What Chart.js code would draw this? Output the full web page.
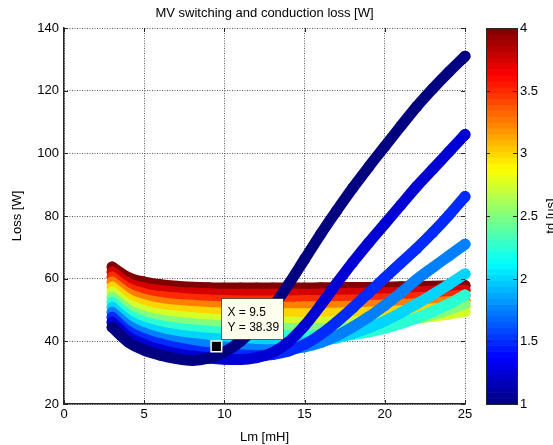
<!DOCTYPE html>
<html>
<head>
<meta charset="utf-8">
<script src="https://cdn.jsdelivr.net/npm/chart.js@4.4.1/dist/chart.umd.min.js"></script>
<style>
  html, body { margin: 0; padding: 0; background: #fff; }
  canvas { display: block; }
</style>
</head>
<body>
<canvas id="lossChart" width="553" height="445"></canvas>
<script>
// Lm [mH] sample points (same for every td curve)
const lm = [3, 4, 5, 6, 7, 8, 9, 10, 11, 12, 13, 14, 15, 16, 17, 18, 19, 20, 21, 22, 23, 24, 25];

// td [us] values, one curve each
const td = [1, 1.25, 1.5, 1.75, 2, 2.25, 2.5, 2.75, 3, 3.25, 3.5, 3.75, 4];

// loss [W], one array per td
const loss_1_00 = [44.5, 39.8, 37.2, 35.6, 34.5, 33.9, 34.6, 36.6, 40.0, 44.8, 50.8, 58.2, 66.2, 74.2, 81.7, 88.9, 95.7, 102.2, 108.7, 115.0, 120.7, 126.0, 131.0];
const loss_1_25 = [46.1, 41.5, 39.0, 37.3, 36.1, 35.3, 34.7, 34.3, 34.2, 34.8, 36.4, 39.8, 45.0, 51.5, 58.5, 65.2, 71.5, 77.5, 83.5, 89.5, 95.0, 100.5, 106.0];
const loss_1_50 = [47.7, 43.2, 40.8, 39.2, 38.0, 37.1, 36.4, 35.9, 35.6, 35.5, 35.8, 36.9, 39.0, 42.2, 46.2, 50.7, 55.5, 60.3, 65.0, 69.7, 74.8, 80.3, 86.2];
const loss_1_75 = [49.3, 45.0, 42.6, 41.0, 40.0, 39.3, 38.7, 38.1, 37.7, 37.4, 37.3, 37.5, 38.2, 39.6, 41.8, 44.6, 47.8, 51.5, 55.5, 59.8, 63.6, 67.3, 71.0];
const loss_2_00 = [50.9, 46.7, 44.4, 43.0, 42.1, 41.5, 41.0, 40.6, 40.2, 39.9, 39.7, 39.6, 39.7, 40.2, 41.1, 42.5, 44.3, 46.5, 49.1, 52.0, 55.0, 58.2, 61.5];
const loss_2_25 = [52.5, 48.4, 46.2, 45.0, 44.2, 43.7, 43.2, 42.8, 42.5, 42.2, 42.0, 41.8, 41.7, 41.7, 41.8, 42.2, 43.0, 44.2, 45.7, 47.5, 49.6, 52.0, 54.8];
const loss_2_50 = [54.1, 50.1, 48.0, 46.8, 46.1, 45.6, 45.2, 44.9, 44.6, 44.4, 44.2, 44.1, 44.0, 44.0, 44.1, 44.3, 44.7, 45.3, 46.2, 47.3, 48.6, 50.2, 52.0];
const loss_2_75 = [55.7, 51.8, 49.8, 48.6, 48.0, 47.5, 47.1, 46.8, 46.6, 46.4, 46.2, 46.1, 46.1, 46.1, 46.2, 46.3, 46.5, 46.8, 47.1, 47.5, 48.0, 48.7, 49.5];
const loss_3_00 = [57.3, 53.5, 51.6, 50.5, 49.9, 49.5, 49.2, 49.0, 48.9, 48.8, 48.8, 48.8, 48.8, 48.9, 49.0, 49.1, 49.3, 49.5, 49.7, 50.0, 50.3, 50.7, 51.2];
const loss_3_25 = [58.9, 55.2, 53.4, 52.4, 51.8, 51.5, 51.2, 51.0, 50.9, 50.9, 50.9, 50.9, 51.0, 51.0, 51.1, 51.2, 51.4, 51.6, 51.8, 52.0, 52.3, 52.6, 53.0];
const loss_3_50 = [60.5, 56.9, 55.2, 54.3, 53.8, 53.4, 53.2, 53.0, 52.9, 52.9, 52.9, 52.9, 53.0, 53.0, 53.1, 53.2, 53.4, 53.5, 53.7, 53.9, 54.1, 54.4, 54.7];
const loss_3_75 = [62.1, 58.6, 57.0, 56.2, 55.7, 55.4, 55.2, 55.0, 55.0, 55.0, 55.0, 55.0, 55.0, 55.1, 55.2, 55.3, 55.4, 55.5, 55.7, 55.8, 56.0, 56.1, 56.3];
const loss_4_00 = [63.7, 60.4, 58.9, 58.1, 57.6, 57.3, 57.1, 57.0, 57.0, 57.0, 57.0, 57.0, 57.0, 57.1, 57.1, 57.2, 57.2, 57.3, 57.4, 57.5, 57.6, 57.7, 57.8];

const lossByTd = [loss_1_00, loss_1_25, loss_1_50, loss_1_75, loss_2_00, loss_2_25, loss_2_50,
                  loss_2_75, loss_3_00, loss_3_25, loss_3_50, loss_3_75, loss_4_00];

// axis ticks
const xTicks = [0, 5, 10, 15, 20, 25];
const yTicks = [20, 40, 60, 80, 100, 120, 140];
const cbTicks = [1, 1.5, 2, 2.5, 3, 3.5, 4];

// data tip
const tipX = 9.5;
const tipY = 38.39;

const FONT = '"Liberation Sans", Arial, Helvetica, sans-serif';
const AXIS_COLOR = '#262626';

// matlab jet colormap, t in [0,1]
function jet(t) {
    const c = v => Math.round(255 * Math.max(0, Math.min(1, v)));
    const r = c(1.5 - Math.abs(4 * t - 3));
    const g = c(1.5 - Math.abs(4 * t - 2));
    const b = c(1.5 - Math.abs(4 * t - 1));
    return 'rgb(' + r + ',' + g + ',' + b + ')';
}

Chart.defaults.font.family = FONT;
Chart.defaults.font.size = 13;
Chart.defaults.color = '#000';

let datasets = [];

// data tip marker first so it is drawn on top
datasets.push({
    label: 'tip',
    data: [{x: tipX, y: tipY}],
    pointStyle: 'rect',
    pointRadius: 7.5,
    backgroundColor: '#000',
    borderColor: '#fffff0',
    pointBorderWidth: 1.5,
    showLine: false,
    clip: false
});

for (let i = 0; i < td.length; i++) {
    const col = jet((td[i] - 1) / 3);
    datasets.push({
        label: 'td = ' + td[i],
        data: lm.map((x, j) => ({x: x, y: lossByTd[i][j]})),
        borderColor: col,
        backgroundColor: col,
        borderWidth: 11,
        pointRadius: 5.5,
        pointBorderWidth: 0,
        showLine: true,
        cubicInterpolationMode: 'monotone',
        borderCapStyle: 'round',
        borderJoinStyle: 'round',
        clip: false
    });
}

// title, inward tick marks, colorbar and data tip box
const matlabDecor = {
    id: 'matlabDecor',
    afterDraw(chart) {
        const ctx = chart.ctx;
        const a = chart.chartArea;
        const x = chart.scales.x, y = chart.scales.y, cb = chart.scales.cb;
        ctx.save();

        // title
        ctx.fillStyle = '#000';
        ctx.font = '13px ' + FONT;
        ctx.textAlign = 'center';
        ctx.textBaseline = 'middle';
        ctx.fillText('MV switching and conduction loss [W]', (a.left + a.right) / 2, 13);

        // inward ticks on all four sides
        ctx.strokeStyle = AXIS_COLOR;
        ctx.lineWidth = 1;
        ctx.beginPath();
        xTicks.forEach(v => {
            const px = Math.round(x.getPixelForValue(v)) + 0.5;
            ctx.moveTo(px, a.bottom); ctx.lineTo(px, a.bottom - 4);
            ctx.moveTo(px, a.top); ctx.lineTo(px, a.top + 4);
        });
        yTicks.forEach(v => {
            const py = Math.round(y.getPixelForValue(v)) + 0.5;
            ctx.moveTo(a.left, py); ctx.lineTo(a.left + 4, py);
            ctx.moveTo(a.right, py); ctx.lineTo(a.right - 4, py);
        });
        ctx.stroke();

        // colorbar
        const cbL = a.right + 21, cbW = 31;
        const steps = 64;
        for (let k = 0; k < steps; k++) {
            const y0 = cb.getPixelForValue(1 + 3 * k / steps);
            const y1 = cb.getPixelForValue(1 + 3 * (k + 1) / steps);
            ctx.fillStyle = jet((k + 0.5) / steps);
            ctx.fillRect(cbL, y1, cbW, y0 - y1 + 0.6);
        }
        const cbTop = cb.getPixelForValue(4), cbBot = cb.getPixelForValue(1);
        ctx.strokeStyle = AXIS_COLOR;
        ctx.strokeRect(cbL + 0.5, Math.round(cbTop) + 0.5, cbW, Math.round(cbBot - cbTop));
        ctx.beginPath();
        ctx.font = '13px ' + FONT;
        ctx.fillStyle = '#000';
        ctx.textAlign = 'left';
        ctx.textBaseline = 'middle';
        cbTicks.forEach(v => {
            const py = Math.round(cb.getPixelForValue(v)) + 0.5;
            ctx.moveTo(cbL, py); ctx.lineTo(cbL + 4, py);
            ctx.moveTo(cbL + cbW, py); ctx.lineTo(cbL + cbW - 4, py);
            ctx.fillText(String(v), cbL + cbW + 3, py);
        });
        ctx.stroke();

        // colorbar label, mostly off the right edge
        ctx.save();
        ctx.translate(554.5, (cbTop + cbBot) / 2);
        ctx.rotate(-Math.PI / 2);
        ctx.textAlign = 'center';
        ctx.textBaseline = 'alphabetic';
        ctx.fillText('td [us]', 0, 0);
        ctx.restore();

        // data tip box
        const tx = x.getPixelForValue(tipX), ty = y.getPixelForValue(tipY);
        const bx = Math.round(tx + 5) + 0.5, by = Math.round(ty - 48) + 0.5;
        ctx.fillStyle = '#ffffee';
        ctx.fillRect(bx, by, 62, 41);
        ctx.strokeStyle = 'rgba(0,0,0,0.55)';
        ctx.strokeRect(bx, by, 62, 41);
        ctx.fillStyle = '#000';
        ctx.font = '12px ' + FONT;
        ctx.textAlign = 'left';
        ctx.textBaseline = 'alphabetic';
        ctx.fillText('X = ' + tipX, bx + 6, by + 17.5);
        ctx.fillText('Y = ' + tipY.toFixed(2), bx + 6, by + 32.5);

        ctx.restore();
    }
};

new Chart(document.getElementById('lossChart'), {
    type: 'scatter',
    data: { datasets: datasets },
    options: {
        responsive: false,
        animation: false,
        devicePixelRatio: 1,
        layout: { padding: { left: 0, top: 28, right: 88, bottom: 0 } },
        plugins: {
            legend: { display: false },
            title: { display: false },
            tooltip: { enabled: false }
        },
        scales: {
            x: {
                type: 'linear',
                position: 'bottom',
                min: 0,
                max: 25,
                afterBuildTicks: s => { s.ticks = xTicks.map(v => ({value: v})); },
                afterFit: s => { s.height = 41; },
                ticks: { padding: 3, maxRotation: 0, color: '#000' },
                grid: { color: '#5a5a5a', drawTicks: false },
                border: { color: AXIS_COLOR, width: 1.5, dash: [1, 1.5] },
                title: { display: true, text: 'Lm [mH]', color: '#000', padding: {top: 0, bottom: 0} }
            },
            y: {
                type: 'linear',
                position: 'left',
                min: 20,
                max: 140,
                afterBuildTicks: s => { s.ticks = yTicks.map(v => ({value: v})); },
                afterFit: s => { s.width = 64; },
                ticks: { padding: 5, color: '#000' },
                grid: { color: '#5a5a5a', drawTicks: false },
                border: { color: AXIS_COLOR, width: 1.5, dash: [1, 1.5] },
                title: { display: true, text: 'Loss [W]', color: '#000', padding: {top: 10, bottom: 0} }
            },
            cb: {
                type: 'linear',
                position: 'right',
                display: false,
                min: 1,
                max: 4
            }
        }
    },
    plugins: [matlabDecor]
});
</script>
</body>
</html>
